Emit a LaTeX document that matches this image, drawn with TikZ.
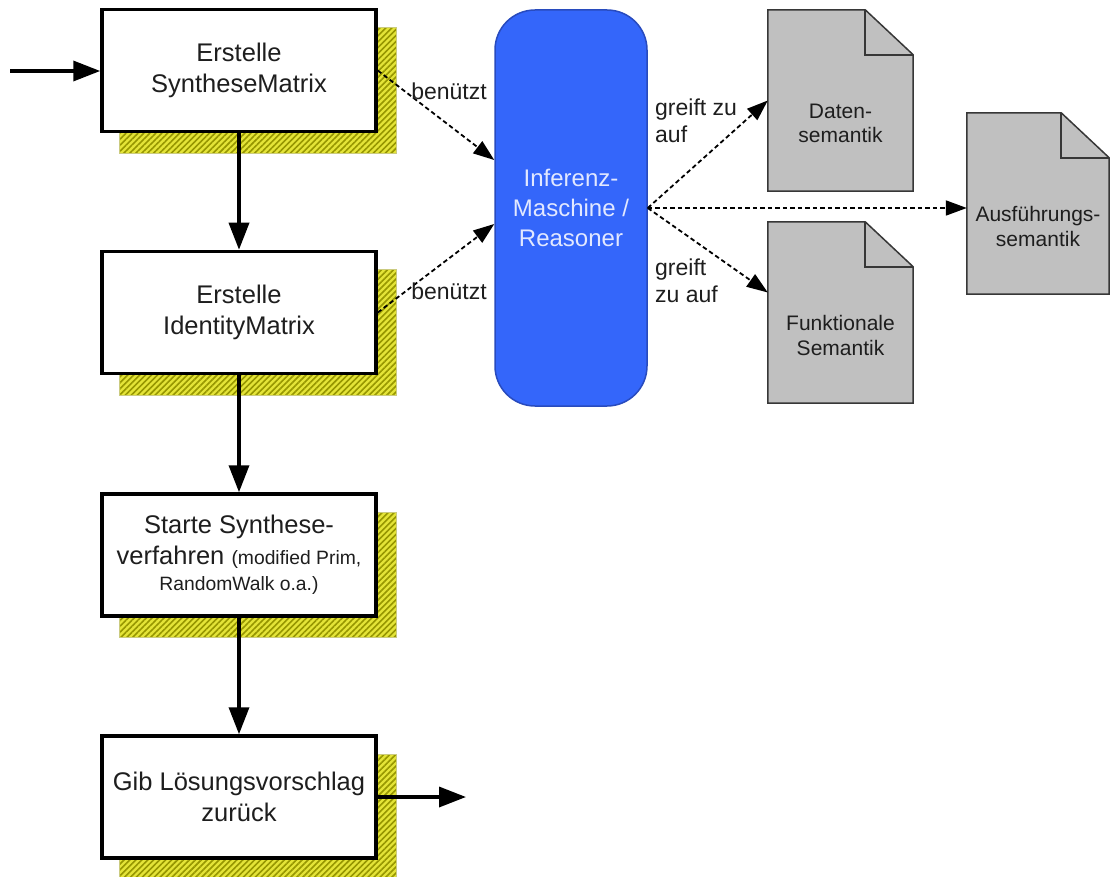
\documentclass[tikz,border=0pt]{standalone}
\usepackage{fontspec}
\setmainfont{Liberation Sans}
\usetikzlibrary{arrows.meta,patterns.meta,backgrounds}

\definecolor{shadowbase}{RGB}{228,228,56}
\definecolor{shadowline}{RGB}{150,150,0}
\definecolor{reasonerblue}{RGB}{52,102,250}
\definecolor{reasonerline}{RGB}{40,75,190}
\definecolor{reasonertext}{RGB}{226,232,255}
\definecolor{docfill}{RGB}{192,192,192}
\definecolor{docline}{RGB}{55,55,55}
\definecolor{labeltext}{RGB}{30,30,30}

\tikzset{
  x=1pt, y=-1pt,
  stepbox/.style={draw=black, line width=3.5pt, fill=white,
    minimum width=274pt, minimum height=122pt, inner sep=2pt,
    align=center, font=\fontsize{25.5}{30.5}\selectfont, text=labeltext},
  boxshadow/.style={preaction={fill=shadowbase},
    pattern={Lines[angle=45,distance=4.2pt,line width=1.6pt]},
    pattern color=shadowline, draw=shadowline!50, line width=0.6pt},
  flow/.style={line width=3.5pt, -{Triangle[length=27pt,width=20pt]}},
  uses/.style={line width=1.8pt, dash pattern=on 4.5pt off 3pt,
    -{Triangle[length=21pt,width=15pt]}},
  edgelabel/.style={font=\fontsize{23}{27}\selectfont, text=labeltext, inner sep=0pt},
  docbox/.style={minimum width=145pt, minimum height=181pt, inner sep=0pt},
  doctext/.style={align=center, font=\fontsize{21}{24.5}\selectfont, text=labeltext},
}

% dog-eared document outline around a node
\newcommand{\docoutline}[1]{%
  \filldraw[fill=docfill, draw=docline, line width=1.5pt, line join=miter]
    (#1.north west) -- ([xshift=-48pt]#1.north east)
    -- ([yshift=-45pt]#1.north east) -- (#1.south east)
    -- (#1.south west) -- cycle;
  \draw[docline, line width=1.5pt]
    ([xshift=-48pt]#1.north east) -- ([xshift=-48pt,yshift=-45pt]#1.north east)
    -- ([yshift=-45pt]#1.north east);
}

\begin{document}
\begin{tikzpicture}
\useasboundingbox (0,0) rectangle (1110,877);

% process steps
\node[stepbox] (b1) at (239,70.5) {Erstelle\\SyntheseMatrix};
\node[stepbox] (b2) at (239,312.5) {Erstelle\\IdentityMatrix};
\node[stepbox] (b3) at (239,555) {Starte Synthese-\\verfahren {\fontsize{19.3}{24}\selectfont(modified Prim,}\\[-4pt]{\fontsize{19.3}{24}\selectfont RandomWalk o.a.)}};
\node[stepbox] (b4) at (239,797) {Gib Lösungsvorschlag\\zurück};

% hatched drop shadows
\begin{scope}[on background layer]
  \foreach \b in {b1,b2,b3,b4}
    \draw[boxshadow] ([shift={(19pt,-20pt)}]\b.south west) rectangle ([shift={(19pt,-20pt)}]\b.north east);
\end{scope}

% reasoner
\node[draw=reasonerline, line width=1.5pt, fill=reasonerblue, rounded corners=40pt,
      minimum width=152pt, minimum height=396pt, align=center,
      font=\fontsize{24}{30}\selectfont, text=reasonertext] (inf) at (571,208)
      {Inferenz-\\Maschine /\\Reasoner};

% semantic documents
\node[docbox] (dat) at (840.5,100.5) {};
\node[docbox] (fun) at (840.5,312.5) {};
\node[docbox, minimum width=142pt] (aus) at (1038,203.5) {};
\begin{scope}[on background layer]
  \docoutline{dat}
  \docoutline{fun}
  \docoutline{aus}
\end{scope}
\node[doctext] (dattxt) at ([yshift=-23pt]dat.center) {Daten-\\semantik};
\node[doctext] (funtxt) at ([yshift=-23pt]fun.center) {Funktionale\\Semantik};
\node[doctext] (austxt) at ([yshift=-23pt]aus.center) {Ausführungs-\\semantik};

% control flow
\coordinate (in) at (10,71);
\coordinate (out) at (466,797);
\draw[flow] (in) -- (b1.west |- in);
\draw[flow] (b1.south) -- (b2.north);
\draw[flow] (b2.south) -- (b3.north);
\draw[flow] (b3.south) -- (b4.north);
\draw[flow] (b4.east |- out) -- (out);

% usage of the reasoner
\draw[uses] (b1.east) -- ([yshift=48pt]inf.west);
\draw[uses] (b2.east) -- ([yshift=-16pt]inf.west);
\node[edgelabel] (l1) at (449,91) {benützt};
\node[edgelabel] (l2) at (449,291) {benützt};

% access to the semantics
\draw[uses] (inf.east) -- (dat.west);
\draw[uses] (inf.east) -- ([yshift=20pt]fun.west);
\draw[uses] (inf.east) -- (inf.east -| aus.west);
\node[edgelabel, align=left, anchor=west] (l3) at (655,121) {greift zu\\auf};
\node[edgelabel, align=left, anchor=west] (l4) at (655,281) {greift\\zu auf};
\end{tikzpicture}
\end{document}
